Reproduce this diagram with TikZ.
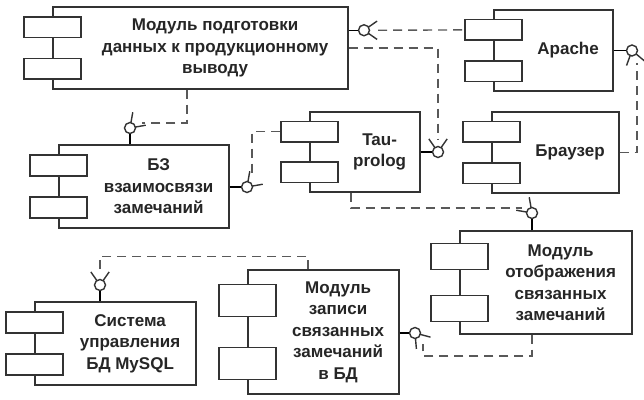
\documentclass[tikz,border=0pt]{standalone}
\usepackage{fontspec}
\setmainfont{Liberation Sans}
\usetikzlibrary{calc,positioning}

\begin{document}
\begin{tikzpicture}[x=1pt, y=-1pt, line width=1.4pt]
        \tikzstyle{comp} = [draw=black!80, fill=white, rectangle, inner sep=0pt]
        \tikzstyle{tab} = [draw=black!80, fill=white, rectangle, minimum width=57pt, inner sep=0pt]
        \tikzstyle{txt} = [align=center, inner sep=0pt, text=black!85, font=\fontsize{17}{21.5}\selectfont\bfseries]
        \tikzstyle{ball} = [draw=black!80, fill=white, circle, minimum size=11pt, inner sep=0pt]
        \tikzstyle{dep} = [draw=black!65, dash pattern=on 9pt off 6pt]
        \tikzstyle{sock} = [draw=black!80]

        \useasboundingbox (0,0) rectangle (644,399);

        \node [comp, minimum width=295pt, minimum height=82pt] (prep) at (200.5,48) {};
        \node [tab, minimum height=20.5pt] (prep-a) at ($(prep.north west)!.25!(prep.south west)$) {};
        \node [tab, minimum height=20.5pt] (prep-b) at ($(prep.north west)!.75!(prep.south west)$) {};
        \node [txt] (prep-t) at ($(prep-a.east |- prep.center)!.5!(prep.east)$) {Модуль подготовки\\данных к продукционному\\выводу};

        \node [comp, minimum width=119pt, minimum height=81pt] (apache) at (553.5,50.5) {};
        \node [tab, minimum height=20.5pt] (apache-a) at ($(apache.north west)!.25!(apache.south west)$) {};
        \node [tab, minimum height=20.5pt] (apache-b) at ($(apache.north west)!.75!(apache.south west)$) {};
        \node [txt] (apache-t) at ($(apache-a.east |- apache.center)!.5!(apache.east)$) {Apache};

        \node [comp, minimum width=110pt, minimum height=80pt] (tau) at (365,152) {};
        \node [tab, minimum height=20.5pt] (tau-a) at ($(tau.north west)!.25!(tau.south west)$) {};
        \node [tab, minimum height=20.5pt] (tau-b) at ($(tau.north west)!.75!(tau.south west)$) {};
        \node [txt] (tau-t) at ($(tau-a.east |- tau.center)!.5!(tau.east)$) {Tau-\\prolog};

        \node [comp, minimum width=127pt, minimum height=81pt] (browser) at (555.5,152.5) {};
        \node [tab, minimum height=20.5pt] (browser-a) at ($(browser.north west)!.25!(browser.south west)$) {};
        \node [tab, minimum height=20.5pt] (browser-b) at ($(browser.north west)!.75!(browser.south west)$) {};
        \node [txt] (browser-t) at ($(browser-a.east |- browser.center)!.5!(browser.east)$) {Браузер};

        \node [comp, minimum width=170pt, minimum height=83pt] (kb) at (144,186.5) {};
        \node [tab, minimum height=21pt] (kb-a) at ($(kb.north west)!.25!(kb.south west)$) {};
        \node [tab, minimum height=21pt] (kb-b) at ($(kb.north west)!.75!(kb.south west)$) {};
        \node [txt] (kb-t) at ($(kb-a.east |- kb.center)!.5!(kb.east)$) {БЗ\\взаимосвязи\\замечаний};

        \node [comp, minimum width=172pt, minimum height=103pt] (view) at (546,282.5) {};
        \node [tab, minimum height=26pt] (view-a) at ($(view.north west)!.25!(view.south west)$) {};
        \node [tab, minimum height=26pt] (view-b) at ($(view.north west)!.75!(view.south west)$) {};
        \node [txt] (view-t) at ($(view-a.east |- view.center)!.5!(view.east)$) {Модуль\\отображения\\связанных\\замечаний};

        \node [comp, minimum width=151pt, minimum height=124pt] (store) at (323.5,332) {};
        \node [tab, minimum height=32pt] (store-a) at ($(store.north west)!.25!(store.south west)$) {};
        \node [tab, minimum height=32pt] (store-b) at ($(store.north west)!.75!(store.south west)$) {};
        \node [txt] (store-t) at ($(store-a.east |- store.center)!.5!(store.east)$) {Модуль\\записи\\связанных\\замечаний\\в БД};

        \node [comp, minimum width=161pt, minimum height=83pt] (dbms) at (115.5,343.5) {};
        \node [tab, minimum height=21pt] (dbms-a) at ($(dbms.north west)!.25!(dbms.south west)$) {};
        \node [tab, minimum height=21pt] (dbms-b) at ($(dbms.north west)!.75!(dbms.south west)$) {};
        \node [txt] (dbms-t) at ($(dbms-a.east |- dbms.center)!.5!(dbms.east)$) {Система\\управления\\БД MySQL};

        \coordinate (p1) at (364,30.25);
        \draw [sock] ($(p1)+(35:16)$) -- (p1) -- ($(p1)+(-35:16)$);
        \node [ball] (b1) at (p1) {};
        \draw (prep.east |- b1) -- (b1);
        \draw [dep] ($(b1)+(14,0)$) -- (apache-a.west);

        \coordinate (p2) at (438,152);
        \draw [sock] ($(p2)+(-55:16)$) -- (p2) -- ($(p2)+(-125:16)$);
        \node [ball] (b2) at (p2) {};
        \draw (tau.east |- b2) -- (b2);
        \draw [dep] (prep.east) -| ($(b2)+(0,-12)$);

        \coordinate (p3) at (130,128);
        \draw [sock] ($(p3)+(-10:16)$) -- (p3) -- ($(p3)+(-80:16)$);
        \node [ball] (b3) at (p3) {};
        \draw (kb.north -| b3) -- (b3);
        \draw [dep] ($(prep.south)+(-13.5,0)$) |- ($(b3)+(12,-5)$);

        \coordinate (p4) at (247,187);
        \draw [sock] ($(p4)+(-10:16)$) -- (p4) -- ($(p4)+(-80:16)$);
        \node [ball] (b4) at (p4) {};
        \draw (kb.east |- b4) -- (b4);
        \draw [dep] (tau-a.west) -| ($(b4)+(5,-10)$);

        \coordinate (p5) at (632,50.5);
        \draw [sock] ($(p5)+(40:16)$) -- (p5) -- ($(p5)+(110:16)$);
        \node [ball] (b5) at (p5) {};
        \draw (apache.east) -- (b5);
        \draw [dep] (browser.east) -| ($(b5)+(5,12)$);

        \coordinate (p6) at (532,213);
        \draw [sock] ($(p6)+(-100:16)$) -- (p6) -- ($(p6)+(-170:16)$);
        \node [ball] (b6) at (p6) {};
        \draw (view.north -| b6) -- (b6);
        \draw [dep] ($(tau.south)+(-14,0)$) |- ($(b6)+(-10,-5)$);

        \coordinate (p7) at (100,285);
        \draw [sock] ($(p7)+(-55:16)$) -- (p7) -- ($(p7)+(-125:16)$);
        \node [ball] (b7) at (p7) {};
        \draw (dbms.north -| b7) -- (b7);
        \draw [dep] ($(store.north)+(-15.5,0)$) -- ++(0,-13) -| ($(b7)+(0,-14)$);

        \coordinate (p8) at (415,333);
        \draw [sock] ($(p8)+(15:16)$) -- (p8) -- ($(p8)+(85:16)$);
        \node [ball] (b8) at (p8) {};
        \draw (store.east |- b8) -- (b8);
        \draw [dep] ($(view.south)+(-14,0)$) |- ($(b8)+(8,23)$) -- ($(b8)+(8,11)$);
\end{tikzpicture}
\end{document}
